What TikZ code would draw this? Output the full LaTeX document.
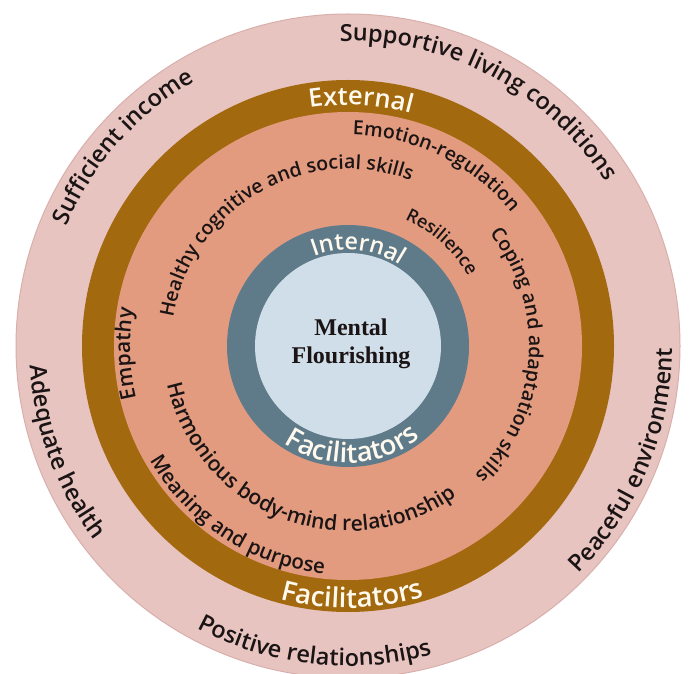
\documentclass[tikz,border=0pt]{standalone}
\usepackage{fontspec}
\usetikzlibrary{decorations.text,calc}
\newfontfamily\lab{Open Sans Semibold}
\newfontfamily\serifx{Liberation Serif}
\definecolor{outerpink}{HTML}{E8C4C0}
\definecolor{outeredge}{HTML}{D8AFAB}
\definecolor{brownring}{HTML}{A2690E}
\definecolor{salmon}{HTML}{E39B80}
\definecolor{slate}{HTML}{5F7B8A}
\definecolor{paleblue}{HTML}{D0DEE9}
\definecolor{ink}{HTML}{1A1414}
\definecolor{cream}{HTML}{FFF9EE}
% radius, mid angle, half span, colour, size, text
\newcommand\toparc[6]{%
  \path[decorate,decoration={text along path,text align=center,text color=#4,
    text={|\lab\fontsize{#5}{#5}\selectfont|#6}}]
    ($(C)+(#2+#3:#1)$) arc[start angle=#2+#3,end angle=#2-#3,radius=#1];}
\newcommand\botarc[6]{%
  \path[decorate,decoration={text along path,text align=center,text color=#4,
    text={|\lab\fontsize{#5}{#5}\selectfont|#6}}]
    ($(C)+(#2-#3:#1)$) arc[start angle=#2-#3,end angle=#2+#3,radius=#1];}
\begin{document}
\begin{tikzpicture}[x=1pt,y=1pt]
\useasboundingbox (0,0) rectangle (691,673);
\fill[white] (0,0) rectangle (691,673);
\coordinate (C) at (348,327);
\begin{scope}
  \clip (0,0) rectangle (691,673);
  \fill[outerpink,draw=outeredge,line width=1pt] (C) circle[radius=332];
\end{scope}
\fill[brownring] (C) circle[radius=266];
\fill[salmon] (C) circle[radius=234];
\fill[slate] (C) circle[radius=121];
\fill[paleblue] (C) circle[radius=93];
\node[font=\serifx\bfseries\fontsize{24}{28}\selectfont,text=ink,align=center] (core) at (351,329) {Mental\\Flourishing};
% outer ring
\toparc{305}{62}{80}{ink}{23.5}{Supportive living conditions}
\toparc{306}{138.5}{60}{ink}{23.5}{Sufficient income}
\botarc{319}{200.5}{60}{ink}{23.5}{Adequate health}
\botarc{324}{-22.5}{60}{ink}{23.5}{Peaceful environment}
\botarc{320}{263.5}{60}{ink}{23.5}{Positive relationships}
% brown ring
\toparc{241}{87}{50}{cream}{25.5}{External}
\botarc{262}{271}{50}{cream}{27.5}{Facilitators}
% slate ring
\toparc{96}{84}{80}{cream}{23.5}{Internal}
\botarc{117}{272.5}{80}{cream}{27.5}{Facilitators}
% salmon area
\toparc{211}{64}{60}{ink}{19.5}{Emotion-regulation}
\toparc{177}{120}{80}{ink}{19.5}{Healthy cognitive and social skills}
\toparc{139}{48}{50}{ink}{18}{Resilience}
\toparc{181}{-3.5}{80}{ink}{19.5}{Coping and adaptation skills}
\toparc{218}{182}{40}{ink}{21}{Empathy}
\botarc{185}{249}{80}{ink}{21}{Harmonious body-mind relationship}
\botarc{229}{237}{60}{ink}{20.5}{Meaning and purpose}
\end{tikzpicture}
\end{document}
